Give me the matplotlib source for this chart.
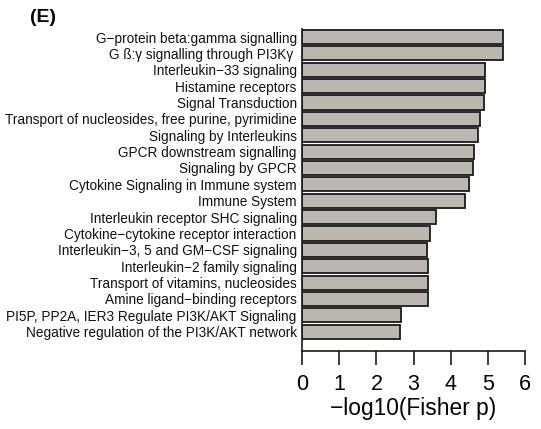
import matplotlib
matplotlib.use("Agg")
import matplotlib.pyplot as plt

categories = [
    "G\u2212protein beta:gamma signalling",
    "G \u00df:\u03b3 signalling through PI3K\u03b3 ",
    "Interleukin\u221233 signaling",
    "Histamine receptors",
    "Signal Transduction",
    "Transport of nucleosides, free purine, pyrimidine",
    "Signaling by Interleukins",
    "GPCR downstream signalling",
    "Signaling by GPCR",
    "Cytokine Signaling in Immune system",
    "Immune System",
    "Interleukin receptor SHC signaling",
    "Cytokine\u2212cytokine receptor interaction",
    "Interleukin\u22123, 5 and GM\u2212CSF signaling",
    "Interleukin\u22122 family signaling",
    "Transport of vitamins, nucleosides",
    "Amine ligand\u2212binding receptors",
    "PI5P, PP2A, IER3 Regulate PI3K/AKT Signaling",
    "Negative regulation of the PI3K/AKT network",
]
values = [5.42, 5.42, 4.92, 4.93, 4.90, 4.79, 4.75, 4.63, 4.60, 4.50, 4.39,
          3.62, 3.44, 3.37, 3.38, 3.38, 3.38, 2.66, 2.63]
xticks = [0, 1, 2, 3, 4, 5, 6]
xlabel = "\u2212log10(Fisher p)"
panel = "(E)"

plt.rcParams['font.family'] = ['Liberation Sans', 'DejaVu Sans']

fig = plt.figure(figsize=(5.41, 4.29), dpi=100)
ax = fig.add_axes([302.3/541, 1-350.7/429, (524.7-302.3)/541, (350.7-29)/429])

pos = list(range(len(categories)))
ax.barh(pos, values, height=0.86, color="#bcb8b0", edgecolor="#1a1a1a", linewidth=1.3)
ax.set_ylim(len(categories) - 1 + 1.16, -0.49)
ax.set_xlim(0, 6)
ax.set_yticks(pos)
ax.set_yticklabels(categories, fontsize=9.8, color="#111111")
ax.tick_params(axis='y', length=0, pad=4)
ax.set_xticks(xticks)
ax.set_xticklabels([str(t) for t in xticks], fontsize=15.5)
ax.tick_params(axis='x', length=10, width=1.2, pad=7, color="#1a1a1a")
ax.set_xlabel(xlabel, fontsize=16.4, labelpad=1)
for s in ['top', 'right']:
    ax.spines[s].set_visible(False)
for s in ['left', 'bottom']:
    ax.spines[s].set_linewidth(1.2)
    ax.spines[s].set_color("#1a1a1a")

fig.text(30/541, 1-18/429, panel, fontsize=14, fontweight='bold', va='center', ha='left')

fig.savefig("out.png", dpi=100)
